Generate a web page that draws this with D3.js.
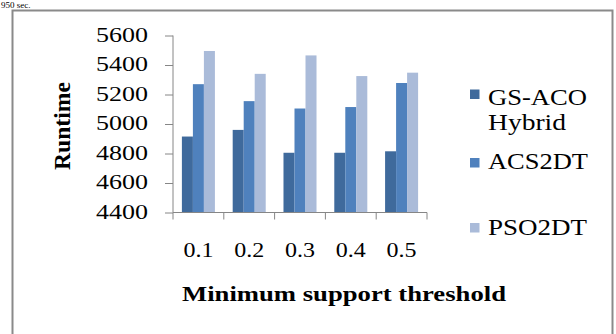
<!DOCTYPE html>
<html>
<head>
<meta charset="utf-8">
<script src="https://cdn.jsdelivr.net/npm/d3@7"></script>
<style>
  html, body { margin: 0; padding: 0; background: #fff; }
  svg { display: block; }
  text { font-family: "Liberation Serif", "Times New Roman", serif; fill: #000; }
</style>
</head>
<body>
<svg id="chart" width="616" height="334"></svg>
<script>
// ---- data ----
const categories = ["0.1", "0.2", "0.3", "0.4", "0.5"];
const seriesNames = ["GS-ACO Hybrid", "ACS2DT", "PSO2DT"];
const gsacoValues = [4915, 4960, 4805, 4805, 4815];
const acs2dtValues = [5270, 5155, 5105, 5115, 5278];
const pso2dtValues = [5495, 5340, 5465, 5325, 5348];
const yTicks = [4400, 4600, 4800, 5000, 5200, 5400, 5600];
const colors = ["#3F6A9C", "#4F81BD", "#AABBD9"];

const seriesValues = [gsacoValues, acs2dtValues, pso2dtValues];

const svg = d3.select("#chart");

// text fragment from the page above the figure
svg.append("text").attr("x", 1).attr("y", 8).style("font-size", "9px").text("950 sec.");

// outer border
svg.append("rect").attr("x", 12.5).attr("y", 10.5).attr("width", 600).attr("height", 340)
  .attr("fill", "none").attr("stroke", "#8a8a8a").attr("stroke-width", 2);

const x0 = d3.scaleBand().domain(categories).range([173, 427]).paddingInner(0.35).paddingOuter(0.175);
const x1 = d3.scaleBand().domain(d3.range(seriesNames.length)).range([0, x0.bandwidth()]);
const y = d3.scaleLinear().domain([4400, 5600]).range([212.5, 35.5]);

// bars
const groups = svg.append("g").selectAll("g").data(categories).join("g")
  .attr("transform", d => `translate(${x0(d)},0)`);
groups.selectAll("rect")
  .data((c, ci) => seriesValues.map((vals, si) => ({ si, v: vals[ci] })))
  .join("rect")
  .attr("x", d => x1(d.si))
  .attr("width", x1.bandwidth())
  .attr("y", d => y(d.v))
  .attr("height", d => y(4400) - y(d.v))
  .attr("fill", d => colors[d.si]);

// y axis
const yAxis = svg.append("g").attr("transform", "translate(173,0)")
  .call(d3.axisLeft(y).tickValues(yTicks).tickSize(8).tickFormat(""));
yAxis.selectAll("path, line").attr("stroke", "#868686");
yAxis.select(".domain").attr("d", `M0,${y(5600)}V${y(4400)}`);

const yLab = svg.append("g");
yLab.selectAll("text").data(yTicks).join("text")
  .attr("x", 148).attr("y", d => y(d) + 6)
  .attr("text-anchor", "end")
  .attr("textLength", 52).attr("lengthAdjust", "spacingAndGlyphs")
  .style("font-size", "20px")
  .text(d => d);

// x axis line with boundary ticks
const xAxisG = svg.append("g");
xAxisG.append("line").attr("x1", 173).attr("x2", 427).attr("y1", y(4400)).attr("y2", y(4400))
  .attr("stroke", "#868686");
const boundaries = categories.map(c => x0(c) - x0.step() * x0.paddingInner() / 2);
boundaries.push(427);
xAxisG.selectAll("line.tk").data(boundaries).join("line").attr("class", "tk")
  .attr("x1", d => d).attr("x2", d => d)
  .attr("y1", y(4400)).attr("y2", y(4400) + 7)
  .attr("stroke", "#868686");

svg.append("g").selectAll("text").data(categories).join("text")
  .attr("x", d => x0(d) + x0.bandwidth() / 2)
  .attr("y", 257)
  .attr("text-anchor", "middle")
  .attr("textLength", 30).attr("lengthAdjust", "spacingAndGlyphs")
  .style("font-size", "20px")
  .text(d => d);

// axis titles
svg.append("text")
  .attr("x", 182).attr("y", 300.5)
  .attr("textLength", 324).attr("lengthAdjust", "spacingAndGlyphs")
  .style("font-size", "21px").style("font-weight", "bold")
  .text("Minimum support threshold");

svg.append("text")
  .attr("transform", "translate(70,170) rotate(-90)")
  .attr("x", 0).attr("y", 0)
  .attr("textLength", 88).attr("lengthAdjust", "spacingAndGlyphs")
  .style("font-size", "23px").style("font-weight", "bold")
  .text("Runtime");

// legend
const legendItems = [
  { name: seriesNames[0], lines: ["GS-ACO", "Hybrid"], widths: [99, 78], markY: 89.5, base: 105 },
  { name: seriesNames[1], lines: ["ACS2DT"], widths: [100], markY: 158, base: 168.5 },
  { name: seriesNames[2], lines: ["PSO2DT"], widths: [99], markY: 223, base: 235 }
];
const lg = svg.append("g").selectAll("g").data(legendItems).join("g");
lg.append("rect")
  .attr("x", 470).attr("y", d => d.markY)
  .attr("width", 9.5).attr("height", 9.5)
  .attr("fill", (d, i) => colors[i]);
lg.each(function(d) {
  const g = d3.select(this);
  d.lines.forEach((ln, k) => {
    g.append("text")
      .attr("x", 488).attr("y", d.base + k * 24.5)
      .attr("textLength", d.widths[k]).attr("lengthAdjust", "spacingAndGlyphs")
      .style("font-size", "24px")
      .text(ln);
  });
});
</script>
</body>
</html>
